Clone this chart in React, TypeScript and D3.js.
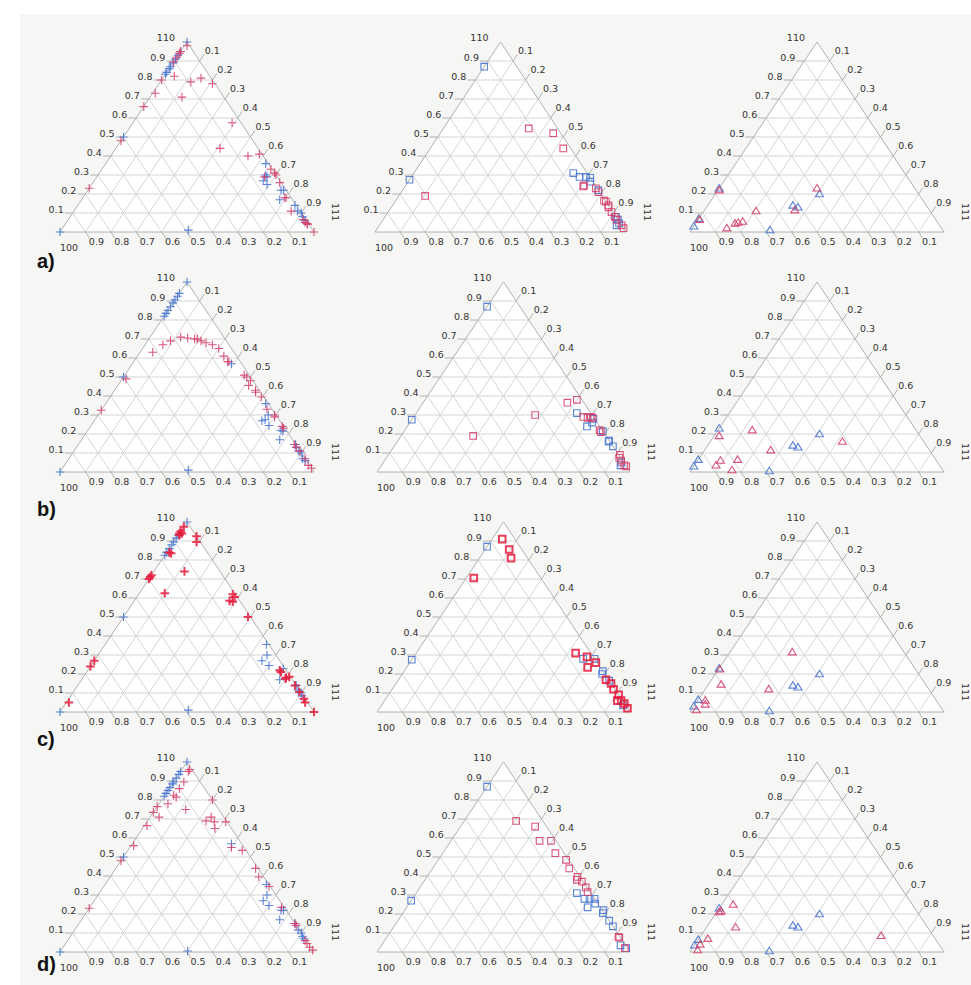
import React from 'react';
import * as d3 from 'd3';

// Each point: [share of 110, share of 111]; share of 100 = 1 - both.
const a_cross_blue = [[1,0],[.95,0],[.93,0],[.91,0],[.89,0],[.87,0],[.86,0],[.84,0],[.83,0],[.5,0],[0,0],[.01,.5],[.36,.63],[.30,.66],[.29,.67],[.27,.665],[.25,.69],[.22,.76],[.22,.77],[.17,.78],[.14,.855],[.11,.88],[.10,.90],[.08,.915],[.06,.935]];
const a_cross_red = [[.98,.01],[.95,0],[.94,0],[.92,0],[.895,0],[.82,.04],[.80,0],[.79,.12],[.81,.15],[.78,.21],[.73,.01],[.71,.125],[.66,0],[.48,0],[.23,0],[.575,.39],[.44,.41],[.40,.54],[.41,.58],[.33,.665],[.31,.69],[.30,.70],[.29,.66],[.26,.735],[.18,.80],[.18,.795],[.11,.855],[.065,.925],[.05,.94],[.045,.95],[.04,.955],[0,1]];
const b_cross_blue = [[1,0],[.94,0],[.925,0],[.905,0],[.89,0],[.87,0],[.85,0],[.835,0],[.82,0],[.5,0],[0,0],[.01,.5],[.57,.39],[.36,.63],[.30,.67],[.275,.67],[.27,.66],[.245,.70],[.22,.76],[.215,.77],[.17,.78],[.145,.855],[.13,.865],[.11,.885],[.10,.90],[.07,.92],[.06,.935]];
const b_cross_red = [[.63,.05],[.67,.07],[.69,.09],[.71,.12],[.705,.15],[.70,.18],[.70,.19],[.69,.21],[.68,.235],[.67,.265],[.65,.30],[.61,.34],[.58,.37],[.58,.375],[.51,.47],[.50,.485],[.48,.51],[.455,.515],[.43,.555],[.42,.56],[.395,.595],[.33,.65],[.30,.695],[.29,.70],[.24,.755],[.23,.765],[.145,.85],[.13,.865],[.11,.89],[.07,.93],[.035,.96],[.02,.98],[.49,.015],[.325,0]];
const c_cross_blue = [[1,0],[.93,0],[.915,0],[.895,0],[.88,0],[.86,0],[.84,0],[.825,0],[.5,0],[0,0],[.01,.5],[.355,.635],[.30,.665],[.27,.66],[.245,.70],[.228,.765],[.17,.78],[.14,.86],[.115,.88],[.10,.90],[.085,.91]];
const c_cross_red = [[.975,0],[.94,0],[.93,.005],[.94,.01],[.95,0],[.925,.075],[.895,.09],[.84,.01],[.835,.02],[.72,0],[.70,0],[.71,0],[.74,.12],[.625,.10],[.62,.37],[.605,.385],[.585,.375],[.58,.39],[.50,.49],[.27,0],[.24,0],[.05,.01],[.22,.755],[.21,.765],[.18,.80],[.185,.81],[.175,.80],[.14,.855],[.105,.89],[.07,.925],[.05,.94],[0,1]];
const d_cross_blue = [[1,0],[.95,0],[.935,0],[.915,0],[.895,0],[.885,0],[.865,0],[.85,0],[.835,0],[.82,0],[.5,0],[0,0],[.005,.5],[.57,.39],[.355,.635],[.30,.665],[.27,.665],[.245,.70],[.22,.76],[.22,.77],[.17,.78],[.15,.85],[.115,.88],[.10,.90],[.08,.915],[.07,.925]];
const d_cross_red = [[.96,.03],[.95,.03],[.895,.04],[.86,.04],[.825,.035],[.815,.05],[.78,.035],[.765,0],[.735,0],[.71,.035],[.75,.12],[.665,.01],[.56,.01],[.48,0],[.23,0],[.80,.20],[.69,.23],[.71,.24],[.685,.265],[.65,.285],[.685,.31],[.55,.40],[.535,.45],[.44,.55],[.395,.585],[.345,.65],[.235,.755],[.15,.85],[.14,.86],[.06,.935],[.045,.95],[.025,.97],[.01,.99]];

const a_square_blue = [[.87,0],[.275,0],[.31,.635],[.29,.67],[.29,.695],[.285,.715],[.265,.725],[.22,.78],[.08,.92],[.065,.935],[.045,.95],[.035,.945]];
const a_square_red = [[.545,.34],[.52,.45],[.44,.53],[.19,.105],[.245,.71],[.24,.71],[.23,.765],[.21,.785],[.165,.83],[.16,.84],[.14,.86],[.13,.865],[.105,.89],[.08,.915],[.065,.93],[.035,.965],[.02,.98]];
const b_square_blue = [[.87,0],[.275,0],[.31,.635],[.24,.71],[.28,.715],[.26,.72],[.215,.785],[.165,.835],[.16,.835],[.135,.865],[.035,.945],[.05,.94]];
const b_square_red = [[.365,.57],[.38,.60],[.30,.475],[.19,.285],[.29,.67],[.285,.69],[.29,.70],[.285,.71],[.22,.77],[.21,.78],[.09,.915],[.075,.92],[.06,.935],[.03,.97],[.035,.96]];
const c_square_blue = [[.87,0],[.275,0],[.28,.675],[.28,.72],[.215,.785],[.20,.79],[.165,.835],[.035,.955]];
const c_square_red = [[.91,.04],[.855,.095],[.81,.125],[.705,.03],[.31,.63],[.29,.685],[.235,.715],[.26,.735],[.17,.82],[.15,.85],[.12,.875],[.09,.91],[.06,.92],[.06,.935],[.045,.955],[.02,.98]];
const d_square_blue = [[.87,0],[.27,0],[.31,.635],[.28,.68],[.28,.70],[.28,.72],[.235,.715],[.255,.735],[.22,.785],[.205,.79],[.165,.835],[.135,.865],[.035,.945],[.02,.975]];
const d_square_red = [[.69,.205],[.66,.295],[.585,.35],[.585,.395],[.52,.445],[.485,.505],[.44,.54],[.395,.595],[.38,.60],[.37,.625],[.34,.655],[.315,.675],[.08,.915],[.075,.92],[.02,.97]];

const a_tri_blue = [[.23,0],[.07,0],[.03,0],[.01,.31],[.14,.335],[.13,.36],[.20,.41]];
const a_tri_red = [[.22,.005],[.065,.005],[.02,.135],[.045,.155],[.05,.165],[.055,.18],[.11,.205],[.115,.355],[.23,.385]];
const b_tri_blue = [[.23,0],[.065,0],[.03,0],[.005,.31],[.14,.335],[.13,.36],[.20,.41]];
const b_tri_red = [[.19,.02],[.22,.135],[.115,.26],[.16,.52],[.035,.085],[.06,.09],[.065,.155],[.01,.16]];
const c_tri_blue = [[.23,0],[.065,0],[.03,0],[.005,.31],[.14,.335],[.13,.36],[.20,.41]];
const c_tri_red = [[.225,.005],[.315,.245],[.145,.05],[.12,.25],[.06,.03],[.04,.04],[.01,.02]];
const d_tri_blue = [[.23,0],[.065,0],[.035,0],[.005,.31],[.14,.335],[.13,.36],[.20,.41]];
const d_tri_red = [[.21,.01],[.215,.015],[.25,.045],[.13,.115],[.07,.035],[.01,.025],[.04,.02],[.085,.71]];

const TICKS = [0.1, 0.2, 0.3, 0.4, 0.5, 0.6, 0.7, 0.8, 0.9];
const VERTEX_LABELS = ['100', '110', '111'];
const ROW_LABELS = ['a)', 'b)', 'c)', 'd)'];
const MARKERS = ['plus', 'square', 'triangle'];

const DATA = [
  [[a_cross_blue, a_cross_red], [a_square_blue, a_square_red], [a_tri_blue, a_tri_red]],
  [[b_cross_blue, b_cross_red], [b_square_blue, b_square_red], [b_tri_blue, b_tri_red]],
  [[c_cross_blue, c_cross_red], [c_square_blue, c_square_red], [c_tri_blue, c_tri_red]],
  [[d_cross_blue, d_cross_red], [d_square_blue, d_square_red], [d_tri_blue, d_tri_red]],
];

const BASE_Y = [232, 472, 712, 952];
const H = 190;
const ROW_LABEL_Y = [268, 516, 746, 971];

function frame(row: number, col: number): [number, number] {
  if (col === 0) return [60, 314];
  if (col === 1) return row === 0 ? [375, 626] : [377, 630];
  return [690, 944];
}

const BLUE = '#4a78d2';
const RED = '#d33b66';
const RED_BOLD = '#e41c3c';
const FONT = 'DejaVu Sans, sans-serif';

function markerPath(type: string, x: number, y: number): string {
  if (type === 'plus') return `M${x - 4.3},${y}H${x + 4.3}M${x},${y - 4.3}V${y + 4.3}`;
  if (type === 'square') return `M${x - 3.3},${y - 3.3}h6.6v6.6h-6.6Z`;
  return `M${x},${y - 3.8}L${x + 4},${y + 2.7}L${x - 4},${y + 2.7}Z`;
}

function Panel({ row, col }: { row: number; col: number }) {
  const [x0, x1] = frame(row, col);
  const base = BASE_Y[row];
  const W = x1 - x0;
  const fx = d3.scaleLinear().domain([0, 1]).range([x0, x1]);
  const fy = d3.scaleLinear().domain([0, 1]).range([base, base - H]);
  const pt = (b: number, c: number): [number, number] => [fx(c + b / 2), fy(b)];
  const top = pt(1, 0), bl = pt(0, 0), br = pt(0, 1);
  const len = Math.hypot(W / 2, H);
  const uR = [W / 2 / len, -H / len];
  const uB = [W / 2 / len, H / len];
  const T = 8;
  const [blue, red] = DATA[row][col];
  const type = MARKERS[col];
  const bold = row === 2 && col < 2;
  const grid: string[] = [];
  TICKS.forEach((f) => {
    const a1 = pt(f, 0), a2 = pt(f, 1 - f);
    grid.push(`M${a1[0]},${a1[1]}L${a2[0]},${a2[1]}`);
    const b1 = pt(0, f), b2 = pt(1 - f, f);
    grid.push(`M${b1[0]},${b1[1]}L${b2[0]},${b2[1]}`);
    const c1 = pt(1 - f, 0), c2 = pt(0, 1 - f);
    grid.push(`M${c1[0]},${c1[1]}L${c2[0]},${c2[1]}`);
  });
  return (
    <g>
      <path d={`M${top[0]},${top[1]}L${br[0]},${br[1]}L${bl[0]},${bl[1]}Z`} fill="#ffffff" />
      <path d={grid.join('')} stroke="#d0d0d0" strokeWidth={0.9} fill="none" />
      <path d={`M${top[0]},${top[1]}L${br[0]},${br[1]}L${bl[0]},${bl[1]}Z`} fill="none" stroke="#b0b0b0" strokeWidth={1} />
      {TICKS.map((f) => {
        const p = pt(f, 0);
        return (
          <g key={'l' + f}>
            <line x1={p[0]} y1={p[1]} x2={p[0] - T} y2={p[1]} stroke="#b0b0b0" />
            <text x={p[0] - T - 1} y={p[1]} textAnchor="end" fontSize={9.5} fill="#333" fontFamily={FONT}>{f.toFixed(1)}</text>
          </g>
        );
      })}
      {TICKS.map((f) => {
        const p = pt(1 - f, f);
        const e = [p[0] + T * uR[0], p[1] + T * uR[1]];
        return (
          <g key={'r' + f}>
            <line x1={p[0]} y1={p[1]} x2={e[0]} y2={e[1]} stroke="#b0b0b0" />
            <text x={e[0] + 0.5} y={e[1] - 0.5} textAnchor="start" fontSize={9.5} fill="#333" fontFamily={FONT}>{f.toFixed(1)}</text>
          </g>
        );
      })}
      {TICKS.map((f) => {
        const p = pt(0, 1 - f);
        const e = [p[0] + T * uB[0], p[1] + T * uB[1]];
        return (
          <g key={'b' + f}>
            <line x1={p[0]} y1={p[1]} x2={e[0]} y2={e[1]} stroke="#b0b0b0" />
            <text x={e[0] - 1} y={e[1] + 6} textAnchor="start" fontSize={9.5} fill="#333" fontFamily={FONT}>{f.toFixed(1)}</text>
          </g>
        );
      })}
      <text x={bl[0]} y={bl[1] + 19} fontSize={9.5} fill="#333" fontFamily={FONT}>{VERTEX_LABELS[0]}</text>
      <text x={top[0] - 12} y={top[1] - 1} textAnchor="end" fontSize={9.5} fill="#333" fontFamily={FONT}>{VERTEX_LABELS[1]}</text>
      <text transform={`translate(${br[0] + 21},${br[1] - 20}) rotate(90)`} textAnchor="middle" dy="0.35em" fontSize={9.5} fill="#333" fontFamily={FONT}>{VERTEX_LABELS[2]}</text>
      <g fill="none" stroke={BLUE} strokeWidth={1.1} strokeOpacity={0.9}>
        {blue.map((d, i) => {
          const p = pt(d[0], d[1]);
          return <path key={i} d={markerPath(type, p[0], p[1])} />;
        })}
      </g>
      <g fill="none" stroke={bold ? RED_BOLD : RED} strokeWidth={bold ? 2 : 1.1} strokeOpacity={0.85}>
        {red.map((d, i) => {
          const p = pt(d[0], d[1]);
          return <path key={i} d={markerPath(type, p[0], p[1])} />;
        })}
      </g>
    </g>
  );
}

export default function App() {
  return (
    <svg width={971} height={985} style={{ position: 'absolute', left: 0, top: 0 }}>
      <rect x={0} y={0} width={971} height={985} fill="#ffffff" />
      <rect x={20} y={14} width={951} height={971} fill="#f6f6f4" />
      {DATA.map((r, ri) => r.map((_, ci) => <Panel key={ri + '-' + ci} row={ri} col={ci} />))}
      {ROW_LABELS.map((l, i) => (
        <text key={l} x={37} y={ROW_LABEL_Y[i]} fontSize={20} fontWeight="bold" fill="#111" fontFamily="Liberation Sans, Arial, sans-serif">{l}</text>
      ))}
    </svg>
  );
}
